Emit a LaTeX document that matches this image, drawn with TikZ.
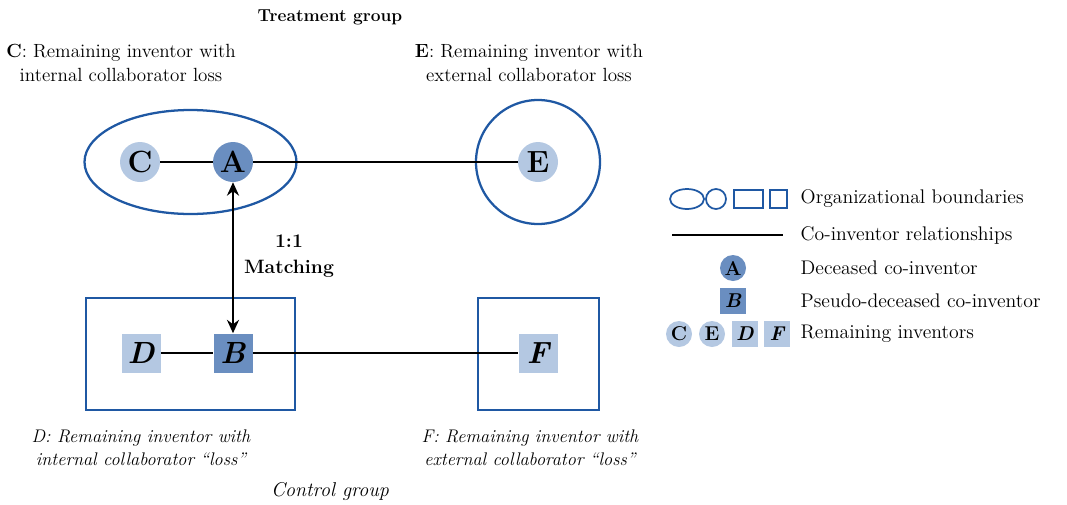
\documentclass[tikz,border=0pt]{standalone}
\usetikzlibrary{arrows.meta}
\definecolor{orgblue}{HTML}{1F58A3}
\definecolor{darkfill}{HTML}{6A8EC0}
\definecolor{lightfill}{HTML}{B4C8E2}
\begin{document}
\begin{tikzpicture}[x=0.75pt,y=-0.75pt,
  boundary/.style={draw=orgblue,line width=1.7pt},
  tie/.style={draw=black,line width=0.8pt},
  person/.style={circle,minimum size=40pt*0.75,inner sep=0pt,font=\fontsize{23}{23}\selectfont\bfseries},
  stand/.style={rectangle,minimum size=39pt*0.75,inner sep=0pt,font=\fontsize{23}{23}\selectfont\bfseries\itshape},
  lperson/.style={circle,minimum size=26pt*0.75,inner sep=0pt,font=\fontsize{15}{15}\selectfont\bfseries},
  lstand/.style={rectangle,minimum size=26pt*0.75,inner sep=0pt,font=\fontsize{15}{15}\selectfont\bfseries\itshape},
  caption/.style={align=center,font=\fontsize{14.3}{17.5}\selectfont},
  icaption/.style={align=center,font=\fontsize{13.7}{17.5}\selectfont\itshape},
  legtext/.style={anchor=west,font=\fontsize{14.8}{15}\selectfont}]
\useasboundingbox (0,0) rectangle (1067,504);

% group titles
\node[font=\fontsize{13}{14}\selectfont\bfseries] (treat) at (330,17) {Treatment group};
\node[font=\fontsize{15}{14}\selectfont\itshape] (ctrl) at (330,491) {Control group};

% descriptions
\node[caption] (capC) at (121,63) {\textbf{C}: Remaining inventor with\\internal collaborator loss};
\node[caption] (capE) at (529,63) {\textbf{E}: Remaining inventor with\\external collaborator loss};
\node[icaption] (capD) at (141,448) {D: Remaining inventor with\\internal collaborator ``loss''};
\node[icaption] (capF) at (530,448) {F: Remaining inventor with\\external collaborator ``loss''};

% organizational boundaries
\draw[boundary] (190.5,162) ellipse [x radius=106,y radius=52];
\draw[boundary] (538,162) circle [radius=62];
\draw[boundary] (86,298) rectangle (295,410);
\draw[boundary] (478,298) rectangle (599,410);

% inventors
\node[person,fill=lightfill] (C) at (140,162) {C};
\node[person,fill=darkfill] (A) at (233,162) {A};
\node[person,fill=lightfill] (E) at (538,162) {E};
\node[stand,fill=lightfill] (D) at (141,353) {D};
\node[stand,fill=darkfill] (B) at (233,353) {B};
\node[stand,fill=lightfill] (F) at (538,353) {F};

% co-inventor ties
\draw[tie] (C) -- (A);
\draw[tie] (A) -- (E);
\draw[tie] (D) -- (B);
\draw[tie] (B) -- (F);

% matching
\draw[line width=1.8pt,{Stealth[length=10pt,width=9pt]}-{Stealth[length=10pt,width=9pt]}] (A) -- (B);
\node[align=center,font=\fontsize{14.5}{19}\selectfont\bfseries] (match) at (289,256) {1:1\\Matching};

% legend
\draw[boundary,line width=1.3pt] (687,199) ellipse [x radius=17,y radius=10];
\draw[boundary,line width=1.3pt] (716,199) circle [radius=10];
\draw[boundary,line width=1.3pt] (734,190) rectangle (763,208);
\draw[boundary,line width=1.3pt] (770,190) rectangle (787,208);
\node[legtext] (l1) at (796,199) {Organizational boundaries};

\coordinate (t1) at (672,235);
\coordinate (t2) at (783,235);
\draw[tie] (t1) -- (t2);
\node[legtext] (l2) at (796,235) {Co-inventor relationships};

\node[lperson,fill=darkfill] (LA) at (733,268) {A};
\node[legtext] (l3) at (796,268) {Deceased co-inventor};

\node[lstand,fill=darkfill] (LB) at (733,301) {B};
\node[legtext] (l4) at (796,301) {Pseudo-deceased co-inventor};

\node[lperson,fill=lightfill] (LC) at (679,334) {C};
\node[lperson,fill=lightfill] (LE) at (712,334) {E};
\node[lstand,fill=lightfill] (LD) at (745,334) {D};
\node[lstand,fill=lightfill] (LF) at (777,334) {F};
\node[legtext] (l5) at (796,334) {Remaining inventors};
\end{tikzpicture}
\end{document}
